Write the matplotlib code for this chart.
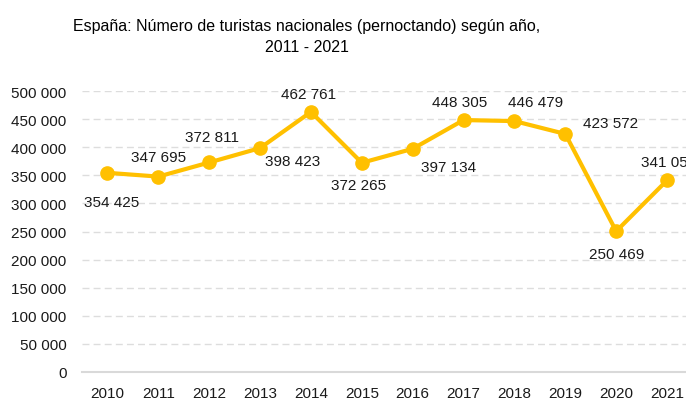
import matplotlib
matplotlib.use("Agg")
import matplotlib.pyplot as plt
from matplotlib.ticker import FuncFormatter

years = ["2010", "2011", "2012", "2013", "2014", "2015", "2016", "2017", "2018", "2019", "2020", "2021"]
values = [354425, 347695, 372811, 398423, 462761, 372265, 397134, 448305, 446479, 423572, 250469, 341057]
# label offsets in pixels (dx, dy)
label_offsets = [(4, -29), (0, 20), (3, 25), (33, -13), (-2, 18), (-3, -22),
                 (36, -18), (-4, 18), (21, 19), (45, 11), (0, -23), (2, 18)]
yticks = list(range(0, 500001, 50000))

plt.rcParams['font.family'] = ['Liberation Sans', 'DejaVu Sans']

fig = plt.figure(figsize=(6.86, 4.10), dpi=100)
ax = fig.add_axes([82/686, 37/410, (692.5-82)/686, 281/410])

x = list(range(len(years)))
ax.plot(x, values, color='#FFC000', lw=3, marker='o', markersize=9.5, zorder=3, clip_on=False)

def fmt(v, pos=None):
    return f"{int(v):,}".replace(",", " ")

for xi, v, (dx, dy) in zip(x, values, label_offsets):
    ax.annotate(fmt(v), (xi, v), xytext=(dx, dy), textcoords='offset pixels',
                ha='center', va='center', fontsize=11, color='#1a1a1a', annotation_clip=False)

ax.set_xlim(-0.5, len(years) - 0.5)
ax.set_ylim(0, 500000)
ax.set_yticks(yticks)
ax.yaxis.set_major_formatter(FuncFormatter(fmt))
ax.set_xticks(x)
ax.set_xticklabels(years)
ax.tick_params(axis='both', length=0, labelsize=11, colors='#1a1a1a')
ax.tick_params(axis='y', pad=11)
ax.tick_params(axis='x', pad=10)
for y in yticks[1:]:
    ax.axhline(y, color='#DDDDDD', lw=1, ls=(0, (5, 3)), zorder=1)
for s in ['top', 'right', 'left']:
    ax.spines[s].set_visible(False)
ax.spines['bottom'].set_color('#D9D9D9')
ax.spines['bottom'].set_linewidth(1.5)

fig.text(307/686, 1 - 27/410, "España: Número de turistas nacionales (pernoctando) según año,",
         ha='center', va='center', fontsize=11.5, color='#000000')
fig.text(307/686, 1 - 48/410, "2011 - 2021", ha='center', va='center', fontsize=11.5, color='#000000')

fig.savefig("out.png", dpi=100)
